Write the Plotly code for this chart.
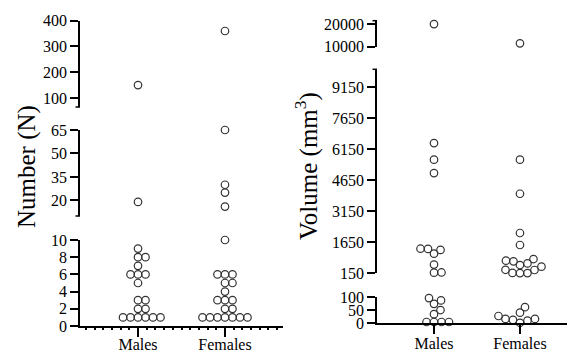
import plotly.graph_objects as go

# ---------------- data ----------------
categories = ["Males", "Females"]

males_number = [150, 19, 9, 8, 8, 7, 6, 6, 6, 5, 3, 3, 2, 2, 1, 1, 1, 1, 1, 1]
females_number = [360, 65, 30, 25, 16, 10, 6, 6, 6, 5, 5, 4, 3, 3, 3, 2, 2,
                  1, 1, 1, 1, 1, 1, 1]

males_volume = [20000, 6450, 5650, 5000, 1330, 1280, 1340, 1100, 570, 190, 180,
                97, 88, 75, 51, 35, 5, 5, 5, 5]
females_volume = [11500, 5650, 4000, 2100, 1520, 840, 760, 730, 630, 550, 470,
                  320, 310, 170, 160, 160, 62, 41, 28, 17, 17, 13, 10, 2]

number_ticks = [[0, 2, 4, 6, 8, 10], [20, 35, 50, 65], [100, 200, 300, 400]]
volume_ticks = [[0, 50, 100], [150, 1650, 3150, 4650, 6150, 7650, 9150], [10000, 20000]]

# ---------------- layout geometry ----------------
W, H = 567, 354
FONT = "Liberation Serif, Times New Roman, serif"


def pdom(top_px, bot_px):
    return [1 - bot_px / H, 1 - top_px / H]


# (range_lo, range_hi, domain)
left_segs = [(0, 10, pdom(240, 326)), (10, 65, pdom(130, 216)), (65, 400, pdom(20.7, 107))]
right_segs = [(0, 100, pdom(297.3, 323.3)), (150, 10021, pdom(69.3, 273.3)),
              (10000, 21500, pdom(20.7, 46.7))]

left_xdom = [80 / W, 283 / W]
left_xrange = [-0.667, 1.667]
right_xdom = [377 / W, 1.0]
right_xrange = [-0.663, 1.547]


def seg_index(v, segs):
    for k, (lo, hi, _) in enumerate(segs):
        if v <= hi:
            return k
    return len(segs) - 1


def to_py(v, seg):
    lo, hi, d = seg
    return H * (1 - (d[0] + (v - lo) / (hi - lo) * (d[1] - d[0])))


def swarm(values, segs, xdom, xrange, D=7.4):
    xscale = (xdom[1] - xdom[0]) * W / (xrange[1] - xrange[0])
    placed = []
    res = [None] * len(values)
    order = sorted(range(len(values)), key=lambda i: values[i])
    for i in order:
        k = seg_index(values[i], segs)
        py = to_py(values[i], segs[k])
        step = 0
        chosen = None
        while chosen is None:
            cands = [0.0] if step == 0 else [step * 0.5, -step * 0.5]
            for dx in cands:
                if all((dx - qx) ** 2 + (py - qy) ** 2 >= D * D for qx, qy in placed):
                    chosen = dx
                    break
            step += 1
        placed.append((chosen, py))
        res[i] = (chosen / xscale, k)
    return res


fig = go.Figure()

marker = dict(symbol="circle-open", size=7.5, color="#333333", line=dict(width=1.2))


def add_panel(groups, segs, xdom, xrange, xname, ynames):
    seg_pts = [([], []) for _ in segs]
    for ci, vals in enumerate(groups):
        offs = swarm(vals, segs, xdom, xrange)
        for v, (dx, k) in zip(vals, offs):
            seg_pts[k][0].append(ci + dx)
            seg_pts[k][1].append(v)
    for k, (xs, ys) in enumerate(seg_pts):
        fig.add_trace(go.Scatter(x=xs, y=ys, mode="markers", marker=marker,
                                 xaxis=xname, yaxis=ynames[k], showlegend=False,
                                 cliponaxis=False, hoverinfo="y"))


add_panel([males_number, females_number], left_segs, left_xdom, left_xrange,
          "x", ["y", "y2", "y3"])
add_panel([males_volume, females_volume], right_segs, right_xdom, right_xrange,
          "x2", ["y4", "y5", "y6"])

tickfont = dict(family=FONT, size=16, color="black")
axis_common = dict(showline=True, linecolor="black", linewidth=1.5, ticks="outside",
                   tickcolor="black", tickwidth=1.5, showgrid=False, zeroline=False,
                   tickfont=tickfont, fixedrange=True)

layout = dict(
    template="none",
    width=W, height=H, margin=dict(l=0, r=0, t=0, b=0),
    paper_bgcolor="white", plot_bgcolor="white",
    font=dict(family=FONT, color="black", size=16),
)

layout["xaxis"] = dict(axis_common, domain=left_xdom, range=left_xrange, anchor="y",
                       tickmode="array", tickvals=[0, 1], ticktext=categories, ticklen=9,
                       ticklabelstandoff=-6,
                       minor=dict(ticks="outside", ticklen=2, dtick=0.1, tick0=0,
                                  tickcolor="black", tickwidth=1.5, showgrid=False))
layout["xaxis2"] = dict(axis_common, domain=right_xdom, range=right_xrange, anchor="y4",
                        tickmode="array", tickvals=[0, 1], ticktext=categories, ticklen=9,
                        ticklabelstandoff=-4)

shapes = []


def cap(xdom_left, seg_end_frac):
    x0 = xdom_left - 4.5 / W
    return dict(type="line", xref="paper", yref="paper", x0=x0, x1=xdom_left,
                y0=seg_end_frac, y1=seg_end_frac, line=dict(color="black", width=1.5))


ynames = ["yaxis", "yaxis2", "yaxis3"]
for k, (lo, hi, d) in enumerate(left_segs):
    layout[ynames[k]] = dict(axis_common, domain=d, range=[lo, hi], anchor="x",
                             tickmode="array", tickvals=number_ticks[k],
                             ticktext=[str(t) for t in number_ticks[k]], ticklen=8)
    if lo not in number_ticks[k]:
        shapes.append(cap(left_xdom[0], d[0]))
    if hi not in number_ticks[k]:
        shapes.append(cap(left_xdom[0], d[1]))
ynames = ["yaxis4", "yaxis5", "yaxis6"]
for k, (lo, hi, d) in enumerate(right_segs):
    layout[ynames[k]] = dict(axis_common, domain=d, range=[lo, hi], anchor="x2",
                             tickmode="array", tickvals=volume_ticks[k],
                             ticktext=[str(t) for t in volume_ticks[k]], ticklen=8)
    if lo not in volume_ticks[k]:
        shapes.append(cap(right_xdom[0], d[0]))
    if hi not in volume_ticks[k]:
        shapes.append(cap(right_xdom[0], d[1]))

layout["shapes"] = shapes
layout["annotations"] = [
    dict(text="Number (N)", textangle=-90, x=27 / W, y=1 - 167 / H, xref="paper",
         yref="paper", showarrow=False, xanchor="center", yanchor="middle",
         font=dict(family=FONT, size=25, color="black")),
    dict(text="Volume (mm<sup>3</sup>)", textangle=-90, x=306 / W, y=1 - 166 / H,
         xref="paper", yref="paper", showarrow=False, xanchor="center",
         yanchor="middle", font=dict(family=FONT, size=25, color="black")),
]

fig.update_layout(**layout)
fig.write_html("out.html")
